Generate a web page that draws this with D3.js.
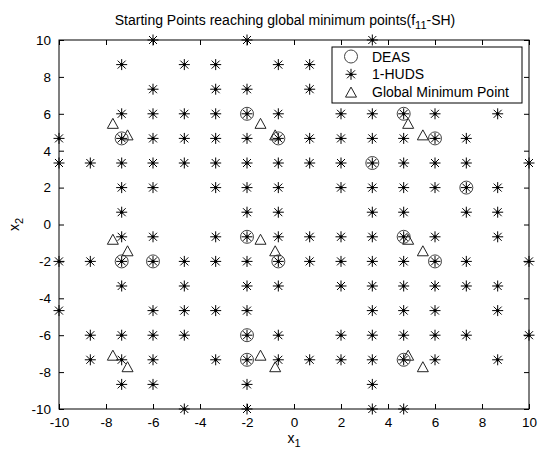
<!DOCTYPE html>
<html>
<head>
<meta charset="utf-8">
<script src="https://cdn.jsdelivr.net/npm/d3@7"></script>
<style>
  body { margin: 0; background: #fff; }
  svg { font-family: "Liberation Sans", Arial, sans-serif; }
</style>
</head>
<body>
<svg id="chart" width="539" height="451"></svg>
<script>
// tick labels
const tickVals = [-10, -8, -6, -4, -2, 0, 2, 4, 6, 8, 10];

// 1-HUDS starting points, row by row (y value and the x values on that row)
const hudsRows = [
  { y: 10,     x: [-6, -2, 3.333] },
  { y: 8.667,  x: [-7.333, -4.667, -3.333, -0.667, 0.667] },
  { y: 7.333,  x: [-6, -3.333, -2, 0.667] },
  { y: 6,      x: [-7.333, -6, -4.667, -3.333, -2, -0.667, 2, 3.333, 4.667, 6, 8.667] },
  { y: 4.667,  x: [-10, -7.333, -6, -4.667, -3.333, -2, -0.667, 0.667, 2, 3.333, 4.667, 6, 7.333] },
  { y: 3.333,  x: [-10, -8.667, -7.333, -6, -4.667, -3.333, -2, -0.667, 0.667, 2, 3.333, 4.667, 6, 7.333, 10] },
  { y: 2,      x: [-7.333, -6, -3.333, -2, -0.667, 2, 3.333, 4.667, 6, 7.333, 8.667] },
  { y: 0.667,  x: [-7.333, -2, -0.667, 3.333, 4.667, 7.333, 8.667] },
  { y: -0.667, x: [-7.333, -6, -3.333, -2, -0.667, 0.667, 2, 3.333, 4.667, 6, 8.667] },
  { y: -2,     x: [-10, -8.667, -7.333, -6, -4.667, -3.333, -2, -0.667, 0.667, 2, 3.333, 4.667, 6, 7.333, 10] },
  { y: -3.333, x: [-7.333, -4.667, -2, -0.667, 2, 3.333, 4.667, 6, 7.333, 8.667] },
  { y: -4.667, x: [-10, -6, -4.667, -3.333, -2, 3.333, 4.667, 6, 8.667] },
  { y: -6,     x: [-8.667, -7.333, -6, -4.667, -2, -0.667, 2, 3.333, 4.667, 6, 7.333, 10] },
  { y: -7.333, x: [-8.667, -7.333, -6, -3.333, -2, -0.667, 0.667, 2, 3.333, 4.667, 6, 8.667] },
  { y: -8.667, x: [-7.333, -6, -2, 3.333] },
  { y: -10,    x: [-4.667, -2, 3.333, 4.667] }
];

// DEAS starting points
const deasX = [-2, 4.667, -7.333, -0.667, 6, 3.333, 7.333, -2, 4.667, -7.333, -6, -0.667, 6, -2, -2, 4.667];
const deasY = [6, 6, 4.667, 4.667, 4.667, 3.333, 2, -0.667, -0.667, -2, -2, -2, -2, -6, -7.333, -7.333];

// global minimum points
const gminX = [-7.708, -7.083, -1.425, -0.800, 4.858, 5.483,
               -7.708, -7.083, -1.425, -0.800, 4.858, 5.483,
               -7.708, -7.083, -1.425, -0.800, 4.858, 5.483];
const gminY = [5.483, 4.858, 5.483, 4.858, 5.483, 4.858,
               -0.800, -1.425, -0.800, -1.425, -0.800, -1.425,
               -7.083, -7.708, -7.083, -7.708, -7.083, -7.708];

const legendLabels = ["DEAS", "1-HUDS", "Global Minimum Point"];

const svg = d3.select("#chart");
const L = 59, R = 529, T = 40, B = 409;

const x = d3.scaleLinear().domain([-10, 10]).range([L, R]);
const y = d3.scaleLinear().domain([-10, 10]).range([B, T]);

const hudsPts = [];
hudsRows.forEach(r => r.x.forEach(v => hudsPts.push([v, r.y])));
const deasPts = deasX.map((v, i) => [v, deasY[i]]);
const gminPts = gminX.map((v, i) => [v, gminY[i]]);

// marker drawers
function circleMark(g) {
  g.append("circle").attr("r", 6.5).attr("fill", "none")
    .attr("stroke", "#444").attr("stroke-width", 1);
}
function starMark(g) {
  const a = 5.5, d = 4;
  g.append("path")
    .attr("d", `M${-a},0H${a}M0,${-a}V${a}M${-d},${-d}L${d},${d}M${-d},${d}L${d},${-d}`)
    .attr("stroke", "#000").attr("stroke-width", 1).attr("fill", "none");
  g.append("circle").attr("r", 1.6).attr("fill", "#000");
}
function triMark(g) {
  g.append("path").attr("d", "M0,-5L5.5,5L-5.5,5Z")
    .attr("fill", "none").attr("stroke", "#222").attr("stroke-width", 1);
}

// data
svg.append("g").selectAll("g").data(deasPts).enter().append("g")
  .attr("transform", d => `translate(${x(d[0])},${y(d[1])})`)
  .each(function () { circleMark(d3.select(this)); });

svg.append("g").selectAll("g").data(hudsPts).enter().append("g")
  .attr("transform", d => `translate(${x(d[0])},${y(d[1])})`)
  .each(function () { starMark(d3.select(this)); });

svg.append("g").selectAll("g").data(gminPts).enter().append("g")
  .attr("transform", d => `translate(${x(d[0])},${y(d[1])})`)
  .each(function () { triMark(d3.select(this)); });

// axes (MATLAB style: ticks inward, box); plain hyphen for minus
const tk = 5;
const fmt = d => String(d);
const axB = svg.append("g").attr("transform", `translate(0,${B})`)
  .call(d3.axisBottom(x).tickValues(tickVals).tickFormat(fmt).tickSizeInner(-tk).tickSizeOuter(0).tickPadding(8));
const axT = svg.append("g").attr("transform", `translate(0,${T})`)
  .call(d3.axisTop(x).tickValues(tickVals).tickSizeInner(-tk).tickSizeOuter(0).tickFormat(""));
const axL = svg.append("g").attr("transform", `translate(${L},0)`)
  .call(d3.axisLeft(y).tickValues(tickVals).tickFormat(fmt).tickSizeInner(-tk).tickSizeOuter(0).tickPadding(8));
const axR = svg.append("g").attr("transform", `translate(${R},0)`)
  .call(d3.axisRight(y).tickValues(tickVals).tickSizeInner(-tk).tickSizeOuter(0).tickFormat(""));

[axB, axT, axL, axR].forEach(a => {
  a.select(".domain").remove();
  a.selectAll("line").attr("stroke", "#000");
  a.selectAll("text").attr("font-size", 13.5).attr("fill", "#000")
    .attr("font-family", "'Liberation Sans', Arial, sans-serif");
});

svg.append("rect").attr("x", L).attr("y", T).attr("width", R - L).attr("height", B - T)
  .attr("fill", "none").attr("stroke", "#000").attr("stroke-width", 1);

// title
const title = svg.append("text").attr("x", 285).attr("y", 25)
  .attr("text-anchor", "middle").attr("font-size", 14);
title.append("tspan").text("Starting Points reaching global minimum points(f");
title.append("tspan").attr("dy", 4).attr("font-size", 11).text("11");
title.append("tspan").attr("dy", -4).text("-SH)");

// x label
const xl = svg.append("text").attr("x", (L + R) / 2).attr("y", 443)
  .attr("text-anchor", "middle").attr("font-size", 14);
xl.append("tspan").text("x");
xl.append("tspan").attr("dy", 4).attr("font-size", 11).text("1");

// y label
const yl = svg.append("text").attr("transform", `translate(19,${(T + B) / 2}) rotate(-90)`)
  .attr("text-anchor", "middle").attr("font-size", 14);
yl.append("tspan").text("x");
yl.append("tspan").attr("dy", 4).attr("font-size", 11).text("2");

// legend
const lg = svg.append("g");
lg.append("rect").attr("x", 332).attr("y", 47).attr("width", 190).attr("height", 56)
  .attr("fill", "#fff").attr("stroke", "#000").attr("stroke-width", 1);
const markers = [circleMark, starMark, triMark];
legendLabels.forEach((t, i) => {
  const yy = 56.5 + i * 17.8;
  const m = lg.append("g").attr("transform", `translate(351,${yy})`);
  markers[i](m);
  lg.append("text").attr("x", 372).attr("y", yy + 5).attr("font-size", 14).text(t);
});
</script>
</body>
</html>
